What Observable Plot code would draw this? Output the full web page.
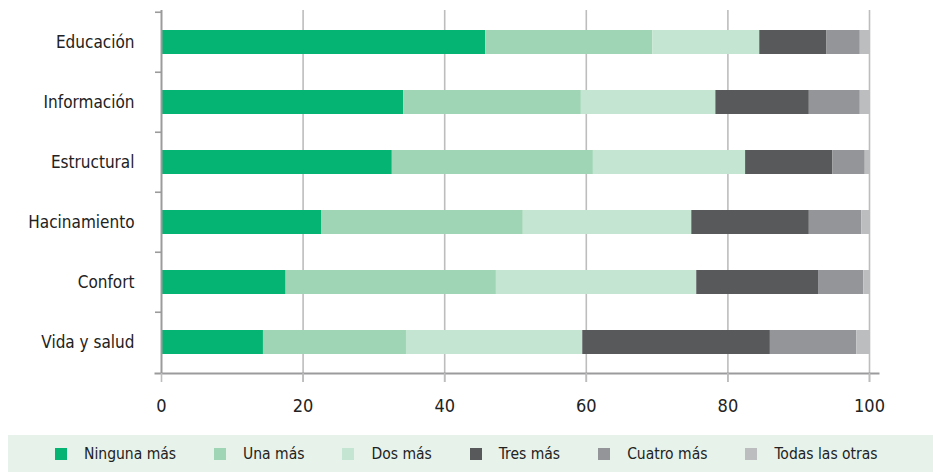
<!DOCTYPE html>
<html>
<head>
<meta charset="utf-8">
<script src="https://cdn.jsdelivr.net/npm/d3@7"></script>
<script src="https://cdn.jsdelivr.net/npm/@observablehq/plot@0.6"></script>
<style>
  body { margin: 0; background: #fff; font-family: "DejaVu Sans Condensed", "Liberation Sans Narrow", sans-serif; }
  #legend { margin-left: 8px; margin-top: 2px; height: 37px; background: #e6f2ea; display: flex; align-items: center; padding-left: 47px; font-size: 15.5px; color: #222; white-space: nowrap; }
  .item { display: flex; align-items: center; margin-right: 38px; }
  .sw { width: 12px; height: 12px; margin-right: 17px; }
</style>
</head>
<body>
<div id="chart"></div>
<div id="legend"></div>
<script>
const categories = ["Educación", "Información", "Estructural", "Hacinamiento", "Confort", "Vida y salud"];
const series = ["Ninguna más", "Una más", "Dos más", "Tres más", "Cuatro más", "Todas las otras"];
const ninguna = [45.8, 34.2, 32.6, 22.6, 17.6, 14.4];
const una     = [23.6, 25.1, 28.4, 28.5, 29.7, 20.2];
const dos     = [15.1, 19.0, 21.5, 23.8, 28.3, 24.9];
const tres    = [9.5, 13.2, 12.3, 16.6, 17.2, 26.5];
const cuatro  = [4.7, 7.2, 4.6, 7.4, 6.4, 12.2];
const otras   = [1.3, 1.3, 0.6, 1.1, 0.8, 1.8];
const xTicks = [0, 20, 40, 60, 80, 100];
const colors = ["#05b473", "#9fd5b4", "#c4e5d2", "#58595b", "#939598", "#bcbdbf"];

const values = [ninguna, una, dos, tres, cuatro, otras];
const data = [];
categories.forEach((c, i) => series.forEach((s, j) => data.push({category: c, series: s, value: values[j][i]})));

const font = '"DejaVu Sans Condensed", "Liberation Sans Narrow", sans-serif';
const chart = Plot.plot({
  width: 933,
  height: 433,
  marginLeft: 161,
  marginRight: 64,
  marginTop: 10,
  marginBottom: 60,
  style: {fontFamily: font, fontSize: "17px", color: "#222", background: "#fff"},
  x: {domain: [0, 100], label: null},
  y: {domain: categories, paddingInner: 0.6, paddingOuter: 0.3, label: null},
  color: {domain: series, range: colors},
  marks: [
    Plot.ruleX(xTicks.slice(1), {stroke: "#bdbdbd", strokeWidth: 1.6, insetBottom: -9}),
    Plot.barX(data, {x: "value", y: "category", fill: "series", order: series}),
    Plot.ruleX([0], {stroke: "#9b9b9d", strokeWidth: 2}),
    Plot.frame({anchor: "bottom", stroke: "#9b9b9d", strokeWidth: 2, insetLeft: -6, insetRight: -9}),
    Plot.axisX({ticks: xTicks, tickSize: 9, tickPadding: 17, stroke: "#bdbdbd", strokeWidth: 1.6, fontSize: 18, fill: "#222"}),
    Plot.axisY({tickSize: 6, text: null, dy: -30.25, stroke: "#9b9b9d", strokeWidth: 1.6}),
    Plot.axisY({tickSize: 0, tickPadding: 27, fontSize: 17, fill: "#222"})
  ]
});
document.getElementById("chart").appendChild(chart);

const legend = document.getElementById("legend");
series.forEach((s, i) => {
  const it = document.createElement("div");
  it.className = "item";
  it.innerHTML = `<span class="sw" style="background:${colors[i]}"></span><span>${s}</span>`;
  legend.appendChild(it);
});
</script>
</body>
</html>
